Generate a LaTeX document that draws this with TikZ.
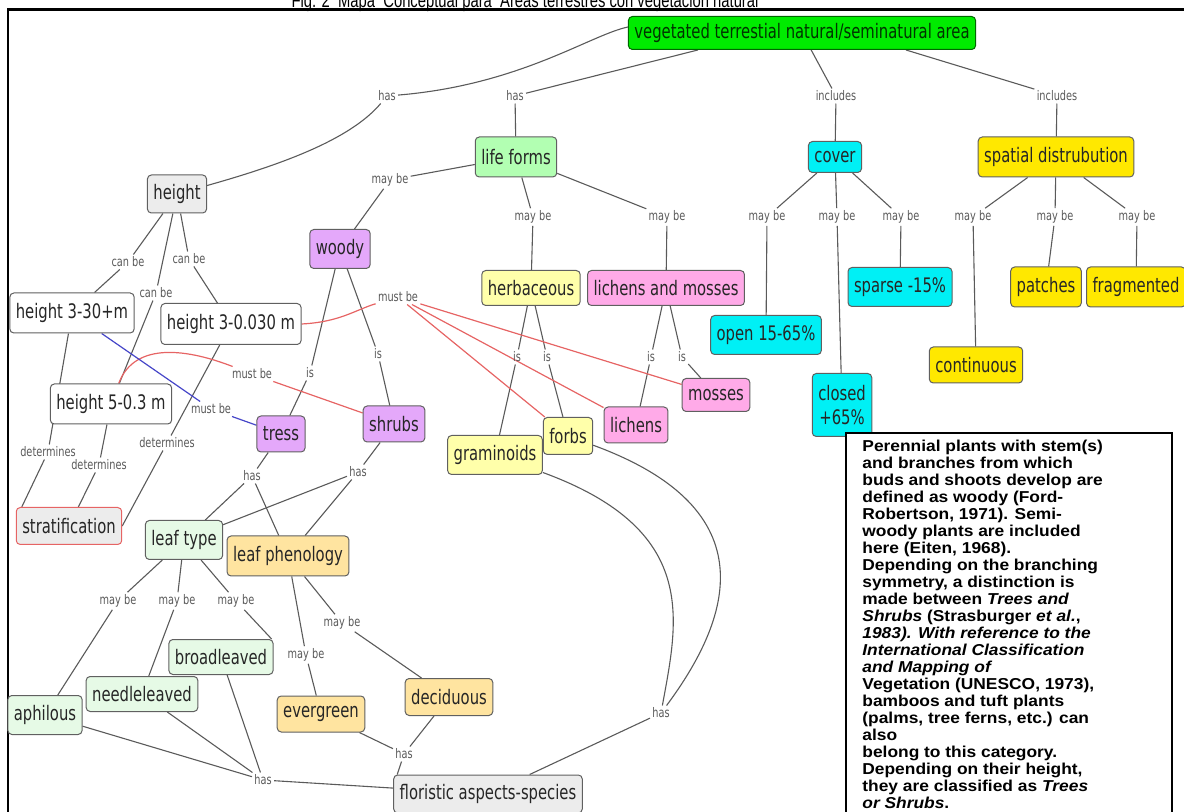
\documentclass[tikz,border=0pt]{standalone}
\usepackage{fontspec}
\newfontfamily\mapfont{DejaVu Sans}[FakeStretch=0.74]
\newfontfamily\notefont{Liberation Sans}[FakeStretch=1.1]
\newfontfamily\capfont{Liberation Sans}[FakeStretch=0.74]
\pgfdeclarelayer{bg}
\pgfsetlayers{bg,main}
\definecolor{cgreen}{RGB}{0,235,0}
\definecolor{clife}{RGB}{178,255,178}
\definecolor{cgray}{RGB}{236,236,236}
\definecolor{cviolet}{RGB}{228,168,250}
\definecolor{cyel}{RGB}{255,255,170}
\definecolor{cpink}{RGB}{255,170,232}
\definecolor{ccyan}{RGB}{0,240,245}
\definecolor{cgold}{RGB}{255,232,0}
\definecolor{cleaf}{RGB}{230,250,230}
\definecolor{corange}{RGB}{255,228,160}
\definecolor{cred}{RGB}{230,100,100}
\definecolor{cblue}{RGB}{70,70,200}
\definecolor{cline}{RGB}{90,90,90}
\tikzset{
  cpt/.style={draw=gray!75!black, line width=0.5pt, rounded corners=2pt,
    font=\mapfont\fontsize{10}{12}\selectfont, text=black!85,
    inner xsep=3pt, inner ysep=2pt, minimum height=18.5pt},
  lnk/.style={font=\mapfont\fontsize{6.6}{8}\selectfont, text=black!65, inner sep=1pt},
  cnx/.style={draw=cline, line width=0.55pt},
  rcnx/.style={draw=cred, line width=0.6pt},
  bcnx/.style={draw=cblue, line width=0.6pt}
}
\begin{document}
\begin{tikzpicture}[x=0.5pt,y=-0.5pt]
\useasboundingbox (0,0) rectangle (1184,812);
\node[anchor=base, inner sep=0, font=\capfont\fontsize{10}{12}\selectfont] (caption) at (525,8) {Fig. 2 \ Mapa \ Conceptual para \ Áreas terrestres con vegetación natural};
\draw[line width=1.3pt] (1184,9.5) -- (8,9.5) -- (8,812);

\node[cpt, fill=cgreen, draw=green!40!black, text=green!20!black, minimum height=16.5pt] (area) at (802,33) {vegetated terrestial natural/seminatural area};
\node[lnk] (has1) at (387,96) {has};
\node[lnk] (has2) at (515,96) {has};
\node[lnk] (inc1) at (836,96) {includes};
\node[lnk] (inc2) at (1057,96) {includes};
\node[cpt, fill=clife, minimum height=20pt] (life) at (516,157) {life forms};
\node[cpt, fill=cgray, minimum height=19pt] (height) at (177,194) {height};
\node[cpt, fill=ccyan, minimum height=15.5pt] (cover) at (835,157) {cover};
\node[cpt, fill=cgold, minimum height=20pt] (spatial) at (1056,157) {spatial distrubution};
\node[lnk] (mb1) at (390,180) {may be};
\node[lnk] (mb2) at (533,217) {may be};
\node[lnk] (mb3) at (667,217) {may be};
\node[lnk] (mb4) at (767,217) {may be};
\node[lnk] (mb5) at (837,217) {may be};
\node[lnk] (mb6) at (901,217) {may be};
\node[lnk] (mb7) at (973,217) {may be};
\node[lnk] (mb8) at (1055,217) {may be};
\node[lnk] (mb9) at (1137,217) {may be};
\node[cpt, fill=cviolet, minimum height=19.5pt] (woody) at (340,249) {woody};
\node[lnk] (cb1) at (128,262) {can be};
\node[lnk] (cb2) at (189,259) {can be};
\node[lnk] (cb3) at (156,293) {can be};
\node[cpt, fill=cyel, minimum height=17.5pt] (herb) at (531,288) {herbaceous};
\node[cpt, fill=cpink, minimum height=17.5pt] (lichmoss) at (666,288) {lichens and mosses};
\node[cpt, fill=ccyan, minimum height=19.5pt] (sparse) at (900,287) {sparse -15\%};
\node[cpt, fill=cgold, minimum height=20pt] (patches) at (1046,287) {patches};
\node[cpt, fill=cgold, minimum height=20pt] (frag) at (1136,287) {fragmented};
\node[cpt, fill=white, minimum height=20pt] (h330) at (72,313) {height 3-30+m};
\node[cpt, fill=white, minimum height=20.5pt] (h30030) at (231,324) {height 3-0.030 m};
\node[lnk] (mu1) at (398,297) {must be};
\node[cpt, fill=ccyan, minimum height=19.5pt] (open) at (766,335) {open 15-65\%};
\node[cpt, fill=cgold, minimum height=18pt] (cont) at (976,365) {continuous};
\node[cpt, fill=ccyan, align=center, minimum height=31.5pt] (closed) at (842,405) {closed\\+65\%};
\node[lnk] (mu2) at (252,374) {must be};
\node[lnk] (is1) at (310,373) {is};
\node[lnk] (is2) at (378,354) {is};
\node[lnk] (is3) at (517,357) {is};
\node[lnk] (is4) at (547,357) {is};
\node[lnk] (is5) at (651,357) {is};
\node[lnk] (is6) at (682,357) {is};
\node[cpt, fill=white, minimum height=20pt] (h503) at (111,404) {height 5-0.3 m};
\node[lnk] (mu3) at (211,409) {must be};
\node[cpt, fill=cviolet, minimum height=18pt] (tress) at (281,434) {tress};
\node[cpt, fill=cviolet, minimum height=18pt] (shrubs) at (394,424) {shrubs};
\node[cpt, fill=cpink, minimum height=16.5pt] (mosses) at (716,395) {mosses};
\node[cpt, fill=cpink, minimum height=18pt] (lichens) at (636,425) {lichens};
\node[cpt, fill=cyel, minimum height=18.5pt] (forbs) at (568,436) {forbs};
\node[cpt, fill=cyel, minimum height=19.5pt] (gram) at (495,455) {graminoids};
\node[lnk] (det1) at (48,452) {determines};
\node[lnk] (det2) at (99,465) {determines};
\node[lnk] (det3) at (167,443) {determines};
\node[lnk] (has3) at (252,476) {has};
\node[lnk] (has4) at (358,472) {has};
\node[cpt, fill=cgray, draw=cred, minimum height=18.5pt] (strat) at (69,526) {stratification};
\node[cpt, fill=cleaf, minimum height=19.5pt] (leaftype) at (184,540) {leaf type};
\node[cpt, fill=corange, minimum height=20pt] (leafphen) at (288,556) {leaf phenology};
\node[lnk] (mb10) at (118,601) {may be};
\node[lnk] (mb11) at (177,601) {may be};
\node[lnk] (mb12) at (236,601) {may be};
\node[lnk] (mb13) at (342,623) {may be};
\node[lnk] (mb14) at (306,655) {may be};
\node[cpt, fill=cleaf, minimum height=17.5pt] (broad) at (221,657) {broadleaved};
\node[cpt, fill=cleaf, minimum height=17.5pt] (needle) at (142,694) {needleleaved};
\node[cpt, fill=cleaf, minimum height=19.5pt] (aphil) at (45,715) {aphilous};
\node[cpt, fill=corange, minimum height=18pt] (everg) at (321,714) {evergreen};
\node[cpt, fill=corange, minimum height=18.5pt] (decid) at (449,697) {deciduous};
\node[lnk] (has5) at (661,713) {has};
\node[lnk] (has6) at (404,754) {has};
\node[lnk] (has7) at (263,780) {has};
\node[cpt, fill=cgray, minimum height=19pt] (flor) at (488,794) {floristic aspects-species};

\begin{pgfonlayer}{bg}
\draw[cnx] ([yshift=3pt]area.west) .. controls (590,35) and (520,85) .. (has1);
\draw[cnx] (has1) .. controls (350,140) and (280,165) .. (height);
\draw[cnx] (has2) -- ([xshift=35pt]area.south west) (has2) -- (life);
\draw[cnx] (area) -- (inc1) (inc1) -- (cover);
\draw[cnx] ([xshift=52pt]area.south) -- (inc2) (inc2) -- (spatial);
\draw[cnx] (life) -- (mb1) (mb1) -- (woody);
\draw[cnx] (life) -- (mb2) (mb2) -- (herb);
\draw[cnx] (life) -- (mb3) (mb3) -- (lichmoss);
\draw[cnx] (cover) -- (mb4) (mb4) -- (open);
\draw[cnx] (cover) -- (mb5) (mb5) -- (closed);
\draw[cnx] (cover) -- (mb6) (mb6) -- (sparse);
\draw[cnx] (spatial) -- (mb7) (mb7) -- (cont);
\draw[cnx] (spatial) -- (mb8) (mb8) -- (patches);
\draw[cnx] (spatial) -- (mb9) (mb9) -- (frag);
\draw[cnx] (height) -- (cb1) (cb1) -- (h330);
\draw[cnx] (height) -- (cb2) (cb2) -- (h30030);
\draw[cnx] (height) -- (cb3) (cb3) -- (h503);
\draw[cnx] (woody) -- (is1) (is1) -- (tress);
\draw[cnx] (woody) -- (is2) (is2) -- (shrubs);
\draw[cnx] (herb) -- (is3) (is3) -- (gram);
\draw[cnx] (herb) -- (is4) (is4) -- (forbs);
\draw[cnx] (lichmoss) -- (is5) (is5) -- (lichens);
\draw[cnx] (lichmoss) -- (is6) (is6) -- (mosses);
\draw[cnx] (h330) -- (det1) (det1) -- ([xshift=3pt]strat.north west);
\draw[cnx] (h503) -- (det2) (det2) -- (strat);
\draw[cnx] (h30030) -- (det3) (det3) -- (strat.east);
\draw[cnx] (tress) -- (has3) (has3) -- (leaftype) (has3) -- (leafphen);
\draw[cnx] (shrubs) -- (has4) (has4) -- (leaftype) (has4) -- (leafphen);
\draw[cnx] (leaftype) -- (mb10) (mb10) -- (aphil);
\draw[cnx] (leaftype) -- (mb11) (mb11) -- (needle);
\draw[cnx] (leaftype) -- (mb12) (mb12) -- ([xshift=-1pt]broad.north east);
\draw[cnx] (leafphen) -- (mb13) (mb13) -- (decid);
\draw[cnx] (leafphen) -- (mb14) (mb14) -- (everg);
\draw[cnx] (everg) -- (has6) (decid) -- (has6) (has6) -- ([xshift=2pt]flor.north west);
\draw[cnx] (aphil) -- (has7) (needle) -- (has7) (broad) -- (has7) (has7) -- (flor);
\draw[cnx] (gram) .. controls (700,530) and (678,620) .. (has5);
\draw[cnx] (forbs) .. controls (770,510) and (730,620) .. (has5);
\draw[cnx] (has5) -- (flor);
\draw[rcnx] (h30030.east) .. controls (340,322) and (355,310) .. (mu1);
\draw[rcnx] (mu1) -- (forbs) (mu1) -- (lichens) (mu1) -- (mosses);
\draw[rcnx] (h503) .. controls (135,340) and (190,350) .. (mu2);
\draw[rcnx] (mu2) -- (shrubs);
%\draw[rcnx] (mu2) to[out=-15,in=165] (shrubs);
\draw[bcnx] (h330) -- (mu3) (mu3) -- (tress);
\end{pgfonlayer}

\draw[fill=white, line width=0.6pt] (846,433) rectangle (1172,830);
\node[anchor=north west, inner sep=0, align=left, font=\notefont\bfseries\fontsize{7.9}{8.48}\selectfont] (note) at (862,440) {Perennial plants with stem(s)\\
and branches from which\\
buds and shoots develop are\\
defined as woody (Ford-\\
Robertson, 1971). Semi-\\
woody plants are included\\
here (Eiten, 1968).\\
Depending on the branching\\
symmetry, a distinction is\\
made between \textit{Trees and}\\
\textit{Shrubs} (Strasburger \textit{et al.},\\
\textit{1983). With reference to the}\\
\textit{International Classification}\\
\textit{and Mapping of}\\
Vegetation (UNESCO, 1973),\\
bamboos and tuft plants\\
(palms, tree ferns, etc.) can\\
also\\
belong to this category.\\
Depending on their height,\\
they are classified as \textit{Trees}\\
\textit{or Shrubs}.};
\end{tikzpicture}
\end{document}
